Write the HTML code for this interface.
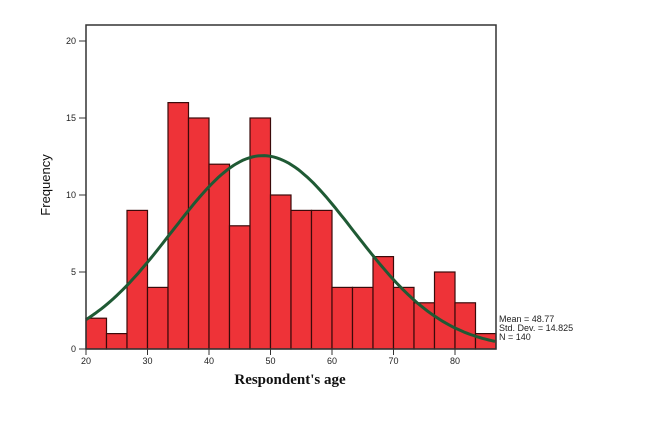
<!DOCTYPE html>
<html><head><style>body{margin:0;background:#fff}</style></head><body>
<svg width="649" height="431" xmlns="http://www.w3.org/2000/svg">
<rect width="649" height="431" fill="#fff"/>
<g fill="#ee3338" stroke="#3a0a0a" stroke-width="1.2">
<rect x="86" y="318.2" width="20.5" height="30.8"/>
<rect x="106.5" y="333.6" width="20.5" height="15.4"/>
<rect x="127" y="210.4" width="20.5" height="138.6"/>
<rect x="147.5" y="287.4" width="20.5" height="61.6"/>
<rect x="168" y="102.6" width="20.5" height="246.4"/>
<rect x="188.5" y="118" width="20.5" height="231"/>
<rect x="209" y="164.2" width="20.5" height="184.8"/>
<rect x="229.5" y="225.8" width="20.5" height="123.2"/>
<rect x="250" y="118" width="20.5" height="231"/>
<rect x="270.5" y="195" width="20.5" height="154"/>
<rect x="291" y="210.4" width="20.5" height="138.6"/>
<rect x="311.5" y="210.4" width="20.5" height="138.6"/>
<rect x="332" y="287.4" width="20.5" height="61.6"/>
<rect x="352.5" y="287.4" width="20.5" height="61.6"/>
<rect x="373" y="256.6" width="20.5" height="92.4"/>
<rect x="393.5" y="287.4" width="20.5" height="61.6"/>
<rect x="414" y="302.8" width="20.5" height="46.2"/>
<rect x="434.5" y="272" width="20.5" height="77"/>
<rect x="455" y="302.8" width="20.5" height="46.2"/>
<rect x="475.5" y="333.6" width="20.5" height="15.4"/>
</g>
<path id="curve" fill="none" stroke="#1f5a34" stroke-width="3"/>
<rect x="86" y="25" width="410" height="324" fill="none" stroke="#333" stroke-width="1.5"/>
<g stroke="#333" stroke-width="1">
<line x1="79" y1="349" x2="86" y2="349"/><line x1="79" y1="272" x2="86" y2="272"/><line x1="79" y1="195" x2="86" y2="195"/><line x1="79" y1="118" x2="86" y2="118"/><line x1="79" y1="41" x2="86" y2="41"/>
<line x1="86" y1="349" x2="86" y2="355"/><line x1="147.5" y1="349" x2="147.5" y2="355"/><line x1="209" y1="349" x2="209" y2="355"/><line x1="270.5" y1="349" x2="270.5" y2="355"/><line x1="332" y1="349" x2="332" y2="355"/><line x1="393.5" y1="349" x2="393.5" y2="355"/><line x1="455" y1="349" x2="455" y2="355"/>
</g>
<g font-family="Liberation Sans, sans-serif" font-size="9" fill="#222" text-anchor="end">
<text x="76" y="352">0</text><text x="76" y="275">5</text><text x="76" y="198">10</text><text x="76" y="121">15</text><text x="76" y="44">20</text>
</g>
<g font-family="Liberation Sans, sans-serif" font-size="9" fill="#222" text-anchor="middle">
<text x="86" y="364">20</text><text x="147.5" y="364">30</text><text x="209" y="364">40</text><text x="270.5" y="364">50</text><text x="332" y="364">60</text><text x="393.5" y="364">70</text><text x="455" y="364">80</text>
</g>
<text x="290" y="384" font-family="Liberation Serif, serif" font-weight="bold" font-size="15" text-anchor="middle" fill="#111">Respondent's age</text>
<text transform="translate(50,185) rotate(-90)" font-family="Liberation Sans, sans-serif" font-size="13" text-anchor="middle" fill="#111">Frequency</text>
<g font-family="Liberation Sans, sans-serif" font-size="9" fill="#222">
<text x="499" y="322">Mean = 48.77</text><text x="499" y="331">Std. Dev. = 14.825</text><text x="499" y="340">N = 140</text>
</g>
<script>
var d='';for(var x=20;x<=86.7;x+=0.5){var y=140*3.333/(14.825*Math.sqrt(2*Math.PI))*Math.exp(-Math.pow(x-48.77,2)/(2*14.825*14.825));d+=(d?'L':'M')+(86+(x-20)*6.15).toFixed(1)+','+(349-y*15.4).toFixed(1);}
document.getElementById('curve').setAttribute('d',d);
</script>
</svg>
</body></html>
